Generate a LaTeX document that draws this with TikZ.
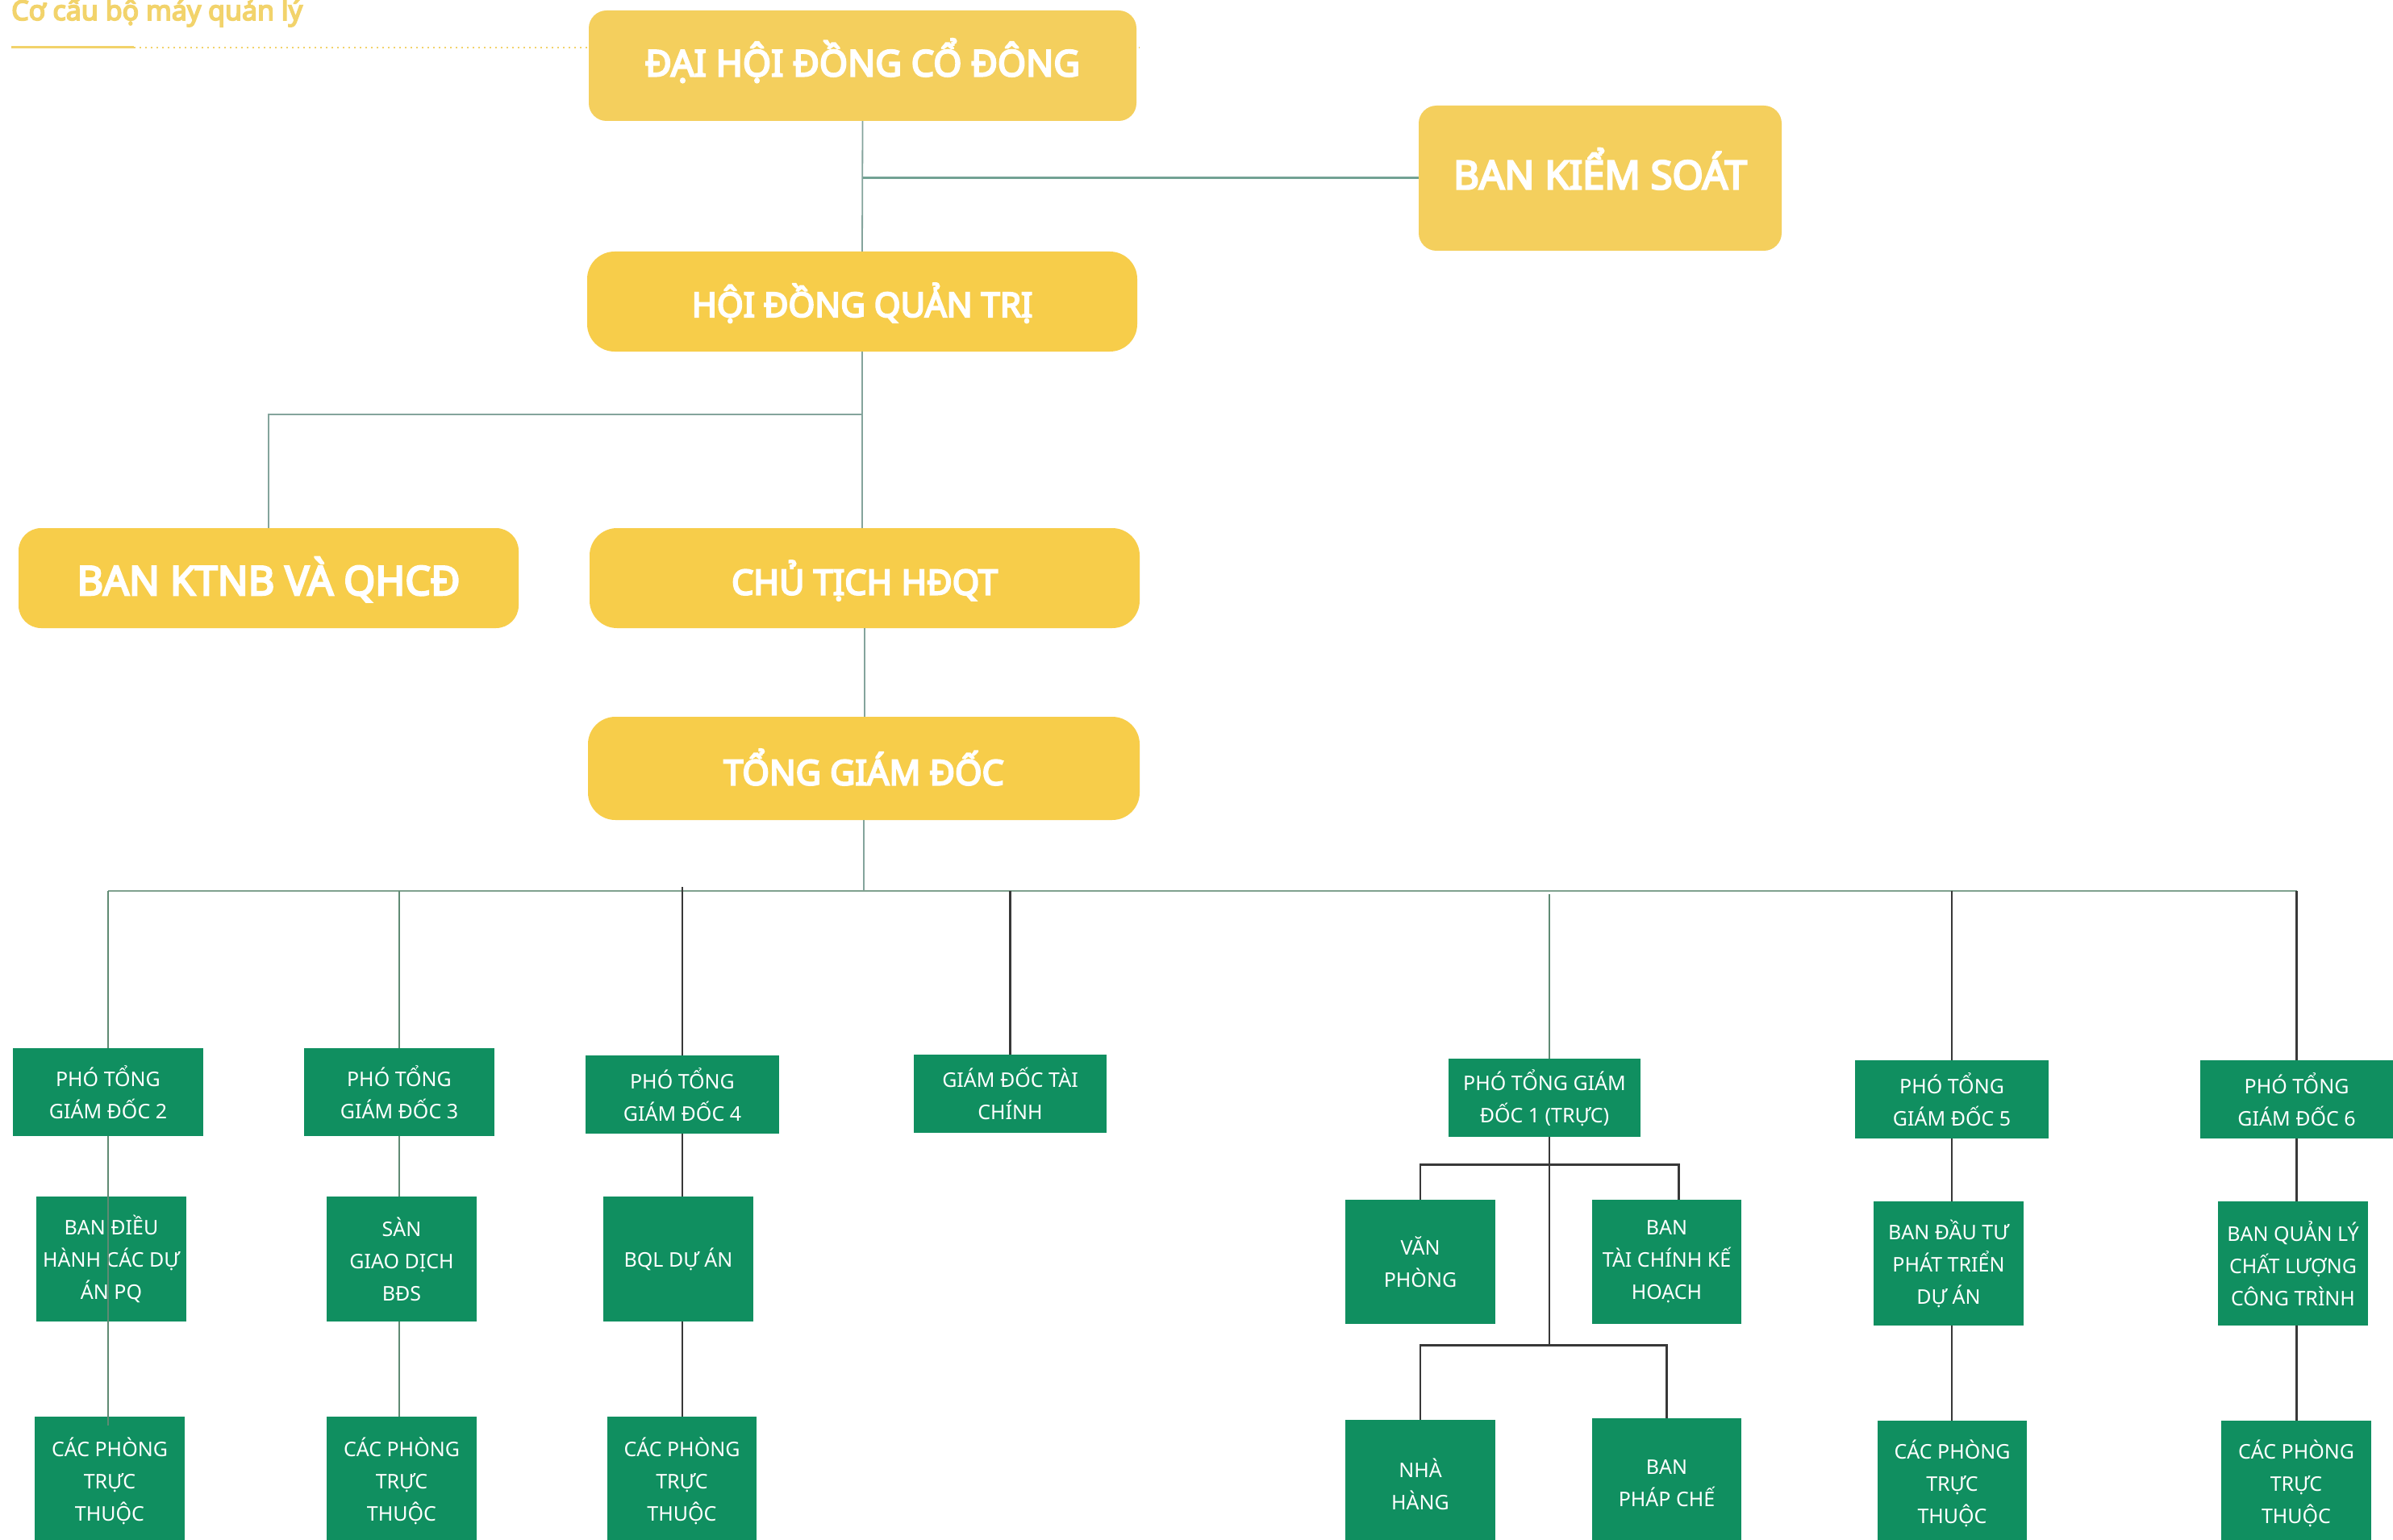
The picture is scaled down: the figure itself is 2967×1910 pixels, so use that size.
\documentclass[tikz,border=0pt]{standalone}
\usepackage{fontspec}
\setmainfont{Noto Sans}
\newfontfamily\yheavy{Noto Sans}[FakeBold=5]
\usetikzlibrary{calc}
\definecolor{ylwA}{HTML}{F4CF5D}
\definecolor{ylwB}{HTML}{F7CD4A}
\definecolor{grn}{HTML}{108F60}
\definecolor{upln}{HTML}{84A49C}
\definecolor{bksln}{HTML}{72A294}
\definecolor{tealln}{HTML}{5F8A73}
\definecolor{darkln}{HTML}{383838}
\definecolor{titleC}{HTML}{F2D36B}
\begin{document}
\begin{tikzpicture}[x=1pt,y=-1pt,
  ybox/.style={fill=ylwB, rounded corners=34pt, text=white, inner sep=0pt, align=center, text depth=0pt},
  ysoft/.style={ybox, fill=ylwA, rounded corners=22pt},
  gbox/.style={fill=grn, text=white, inner sep=0pt, align=center, font=\fontsize{25}{40}\selectfont},
  upline/.style={draw=upln, line width=1.8pt},
  tline/.style={draw=tealln, line width=2.2pt},
  dline/.style={draw=darkln, line width=2.8pt}]
\useasboundingbox (0,0) rectangle (2967,1910);
\clip (0,0) rectangle (2967,1910);
\fill[white] (0,0) rectangle (2967,1910);

% title
\node[anchor=base west, text=titleC, font=\yheavy\fontsize{34}{34}\selectfont, inner sep=0pt] (title) at (14,25) {Cơ cấu bộ máy quản lý};
\coordinate (ul0) at (14,59);
\coordinate (ul1) at (166,59);
\coordinate (ul2) at (1413,59);
\draw[titleC, line width=2pt, dash pattern=on 1.6pt off 5.4pt] (ul1) -- (ul2);
\draw[titleC, line width=3pt] (ul0) -- (ul1);

% yellow boxes
\node[ysoft, text height=26pt, minimum width=679pt, minimum height=137pt, font=\yheavy\fontsize{45}{50}\selectfont] (dhd) at (1069.5,81.5) {ĐẠI HỘI ĐỒNG CỔ ĐÔNG};
\node[ysoft, text height=27pt, minimum width=450pt, minimum height=180pt, font=\yheavy\fontsize{49}{54}\selectfont] (bks) at (1984,221) {BAN KIỂM SOÁT};
\node[ybox, text height=38pt, minimum width=682pt, minimum height=124pt, font=\yheavy\fontsize{42}{48}\selectfont] (hdqt) at (1069,374) {HỘI ĐỒNG QUẢN TRỊ};
\node[ybox, text height=42pt, rounded corners=28pt, minimum width=620pt, minimum height=124pt, font=\yheavy\fontsize{50}{54}\selectfont] (ktnb) at (333,717) {BAN KTNB VÀ QHCĐ};
\node[ybox, text height=41pt, minimum width=682pt, minimum height=124pt, font=\yheavy\fontsize{43}{48}\selectfont] (ct) at (1072,717) {CHỦ TỊCH HĐQT};
\node[ybox, text height=41pt, minimum width=684pt, minimum height=128pt, font=\yheavy\fontsize{43}{48}\selectfont] (tgd) at (1071,953) {TỔNG GIÁM ĐỐC};

% level 1 green
\node[gbox, minimum width=236pt, minimum height=109pt] (p2) at (134,1354.5) {PHÓ TỔNG\\GIÁM ĐỐC 2};
\node[gbox, minimum width=236pt, minimum height=109pt] (p3) at (495,1354.5) {PHÓ TỔNG\\GIÁM ĐỐC 3};
\node[gbox, minimum width=240pt, minimum height=97pt] (p4) at (846,1357.5) {PHÓ TỔNG\\GIÁM ĐỐC 4};
\node[gbox, minimum width=239pt, minimum height=97pt] (tc) at (1252.5,1356.5) {GIÁM ĐỐC TÀI\\CHÍNH};
\node[gbox, minimum width=238pt, minimum height=97pt] (p1) at (1915,1361.5) {PHÓ TỔNG GIÁM\\ĐỐC 1 (TRỰC)};
\node[gbox, minimum width=240pt, minimum height=97pt] (p5) at (2420,1363.5) {PHÓ TỔNG\\GIÁM ĐỐC 5};
\node[gbox, minimum width=239pt, minimum height=97pt] (p6) at (2847.5,1363.5) {PHÓ TỔNG\\GIÁM ĐỐC 6};

% level 2 green
\node[gbox, minimum width=186pt, minimum height=155pt] (b1) at (138,1561.5) {BAN ĐIỀU\\HÀNH CÁC DỰ\\ÁN PQ};
\node[gbox, minimum width=186pt, minimum height=155pt] (b3) at (498,1561.5) {SÀN\\GIAO DỊCH\\BĐS};
\node[gbox, minimum width=186pt, minimum height=155pt] (b4) at (841,1561.5) {BQL DỰ ÁN};
\node[gbox, minimum width=186pt, minimum height=154pt] (vp) at (1761,1565) {VĂN\\PHÒNG};
\node[gbox, minimum width=185pt, minimum height=154pt] (tckh) at (2066.5,1565) {BAN\\TÀI CHÍNH KẾ\\HOẠCH};
\node[gbox, minimum width=186pt, minimum height=154pt] (b5) at (2416,1567) {BAN ĐẦU TƯ\\PHÁT TRIỂN\\DỰ ÁN};
\node[gbox, minimum width=186pt, minimum height=154pt] (b6) at (2843,1567) {BAN QUẢN LÝ\\CHẤT LƯỢNG\\CÔNG TRÌNH};

% level 3 green
\node[gbox, minimum width=186pt, minimum height=160pt] (c2) at (136,1837) {CÁC PHÒNG\\TRỰC\\THUỘC};
\node[gbox, minimum width=186pt, minimum height=160pt] (c3) at (498,1837) {CÁC PHÒNG\\TRỰC\\THUỘC};
\node[gbox, minimum width=185pt, minimum height=160pt] (c4) at (845.5,1837) {CÁC PHÒNG\\TRỰC\\THUỘC};
\node[gbox, minimum width=186pt, minimum height=160pt] (nh) at (1761,1841) {NHÀ\\HÀNG};
\node[gbox, minimum width=185pt, minimum height=162pt] (pc) at (2066.5,1840) {BAN\\PHÁP CHẾ};
\node[gbox, minimum width=185pt, minimum height=156pt] (c5) at (2420.5,1840) {CÁC PHÒNG\\TRỰC\\THUỘC};
\node[gbox, minimum width=186pt, minimum height=156pt] (c6) at (2847,1840) {CÁC PHÒNG\\TRỰC\\THUỘC};

% upper connectors
\draw[upline] (dhd.south) -- (hdqt.north);
\draw[draw=bksln, line width=3pt] (dhd.south |- bks.west) -- (bks.west);
\draw[upline] (hdqt.south) -- (hdqt.south |- ct.north);
\coordinate (kb) at ($(hdqt.south)+(0,78)$);
\draw[upline] (kb) -| (ktnb.north);
\draw[upline] (ct.south) -- (ct.south |- tgd.north);
\coordinate (bus) at (0,1105);
\draw[upline] (tgd.south) -- (tgd.south |- bus);
\draw[draw=tealln!80, line width=2.6pt] (p2.north |- bus) -- (p6.north |- bus);

% drops
\draw[tline] (p2.north |- bus) -- (p2.north);
\draw[tline] (p3.north |- bus) -- (p3.north);
\draw[dline] ($(p4.north |- bus)+(0,-5)$) -- (p4.north);
\draw[dline] (tc.north |- bus) -- (tc.north);
\draw[tline] ($(p1.north |- bus)+(6,4)$) -- ($(p1.north)+(6,0)$);
\draw[dline] (p5.north |- bus) -- (p5.north);
\draw[dline] (p6.north |- bus) -- (p6.north);

% columns
\draw[tline] (p2.south) -- ($(p2.south |- c2.north)+(0,11)$);
\draw[tline] (p3.south) -- (p3.south |- b3.north);
\draw[tline] (p3.south |- b3.south) -- (p3.south |- c3.north);
\draw[dline] (p4.south) -- (p4.south |- b4.north);
\draw[dline] (p4.south |- b4.south) -- (p4.south |- c4.north);
\draw[dline] (p5.south) -- (p5.south |- b5.north);
\draw[dline] (p5.south |- b5.south) -- (p5.south |- c5.north);
\draw[dline] (p6.south) -- (p6.south |- b6.north);
\draw[dline] (p6.south |- b6.south) -- (p6.south |- c6.north);

% PTGD1 subtree
\coordinate (s1) at ($(p1.south)+(6,0)$);
\coordinate (j1) at ($(s1)+(0,34)$);
\coordinate (j2) at ($(s1)+(0,258)$);
\coordinate (tk) at ([xshift=15pt]tckh.north);
\draw[dline] (s1) -- (j2);
\draw[dline] (vp.north) |- (j1) -| (tk);
\draw[dline] (nh.north) |- (j2) -| (pc.north);
\end{tikzpicture}
\end{document}
